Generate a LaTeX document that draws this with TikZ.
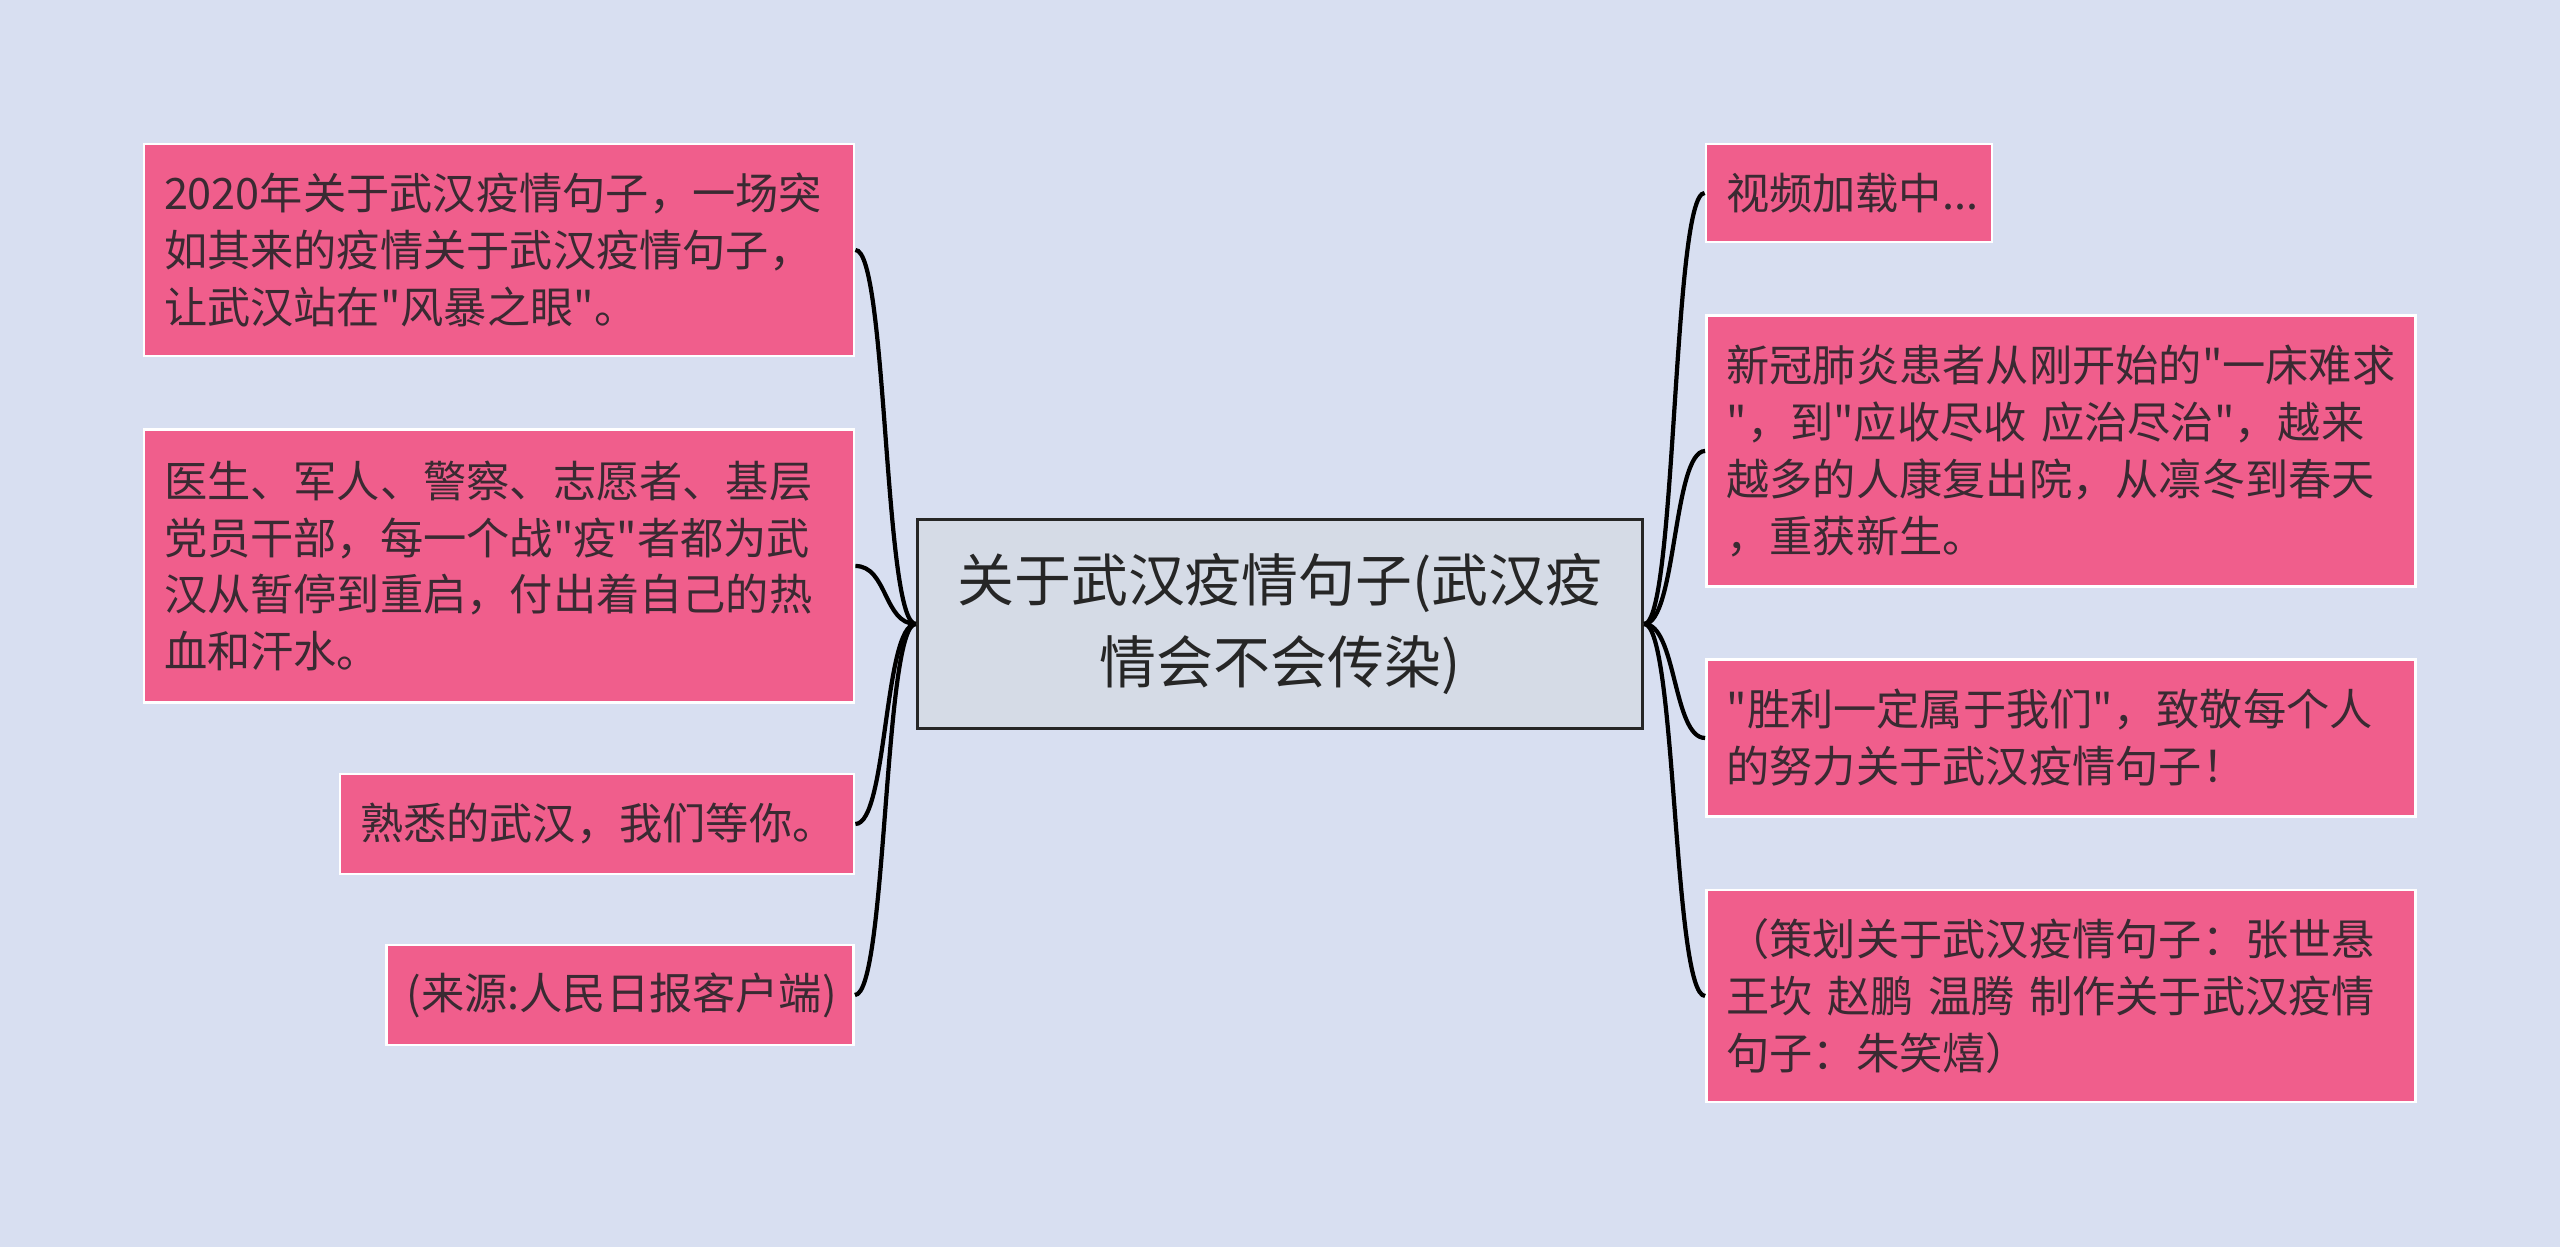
\documentclass[tikz,border=0pt]{standalone}
\usepackage{fontspec}
\setmainfont{Noto Sans CJK SC}[Ligatures=TeXOff]
\usepackage{xcolor}
\definecolor{bgc}{RGB}{216,223,241}
\definecolor{pinkc}{RGB}{240,94,140}
\definecolor{rootc}{RGB}{213,219,230}
\definecolor{txtc}{RGB}{58,42,50}
\begin{document}
\begin{tikzpicture}[
  leaf/.style={draw=white, line width=0.8pt, fill=pinkc, text=txtc, inner xsep=0.2cm, inner ysep=0pt, align=left, font=\fontsize{12.3pt}{16.2pt}\selectfont},
  root/.style={draw=black!85, line width=1pt, fill=rootc, text=black!85, align=center, font=\fontsize{16.2pt}{23.2pt}\selectfont, minimum width=7.25cm, minimum height=2.09cm},
  link/.style={line width=1.2pt, black}
]
\fill[bgc] (0,0) rectangle (25.6,12.47);
\useasboundingbox (0,0) rectangle (25.6,12.47);
\node[root] (C) at (12.80,6.23) {关于武汉疫情句子(武汉疫\\情会不会传染)};
\node[leaf, text width=6.70cm, minimum height=2.12cm] (L1) at (4.99,9.97) {2020年关于武汉疫情句子，一场突\\如其来的疫情关于武汉疫情句子，\\让武汉站在"风暴之眼"。};
\node[leaf, text width=6.70cm, minimum height=2.73cm] (L2) at (4.99,6.81) {医生、军人、警察、志愿者、基层\\党员干部，每一个战"疫"者都为武\\汉从暂停到重启，付出着自己的热\\血和汗水。};
\node[leaf, text width=4.74cm, minimum height=1.00cm] (L3) at (5.97,4.23) {熟悉的武汉，我们等你。};
\node[leaf, text width=4.27cm, minimum height=1.00cm] (L4) at (6.20,2.52) {(来源:人民日报客户端)};
\node[leaf, text width=2.46cm, minimum height=0.98cm] (R1) at (18.49,10.54) {视频加载中...};
\node[leaf, text width=6.69cm, minimum height=2.71cm] (R2) at (20.61,7.96) {新冠肺炎患者从刚开始的"一床难求\\"，到"应收尽收~应治尽治"，越来\\越多的人康复出院，从凛冬到春天\\，重获新生。};
\node[leaf, text width=6.69cm, minimum height=1.57cm] (R3) at (20.61,5.09) {"胜利一定属于我们"，致敬每个人\\的努力关于武汉疫情句子！};
\node[leaf, text width=6.69cm, minimum height=2.12cm] (R4) at (20.61,2.51) {（策划关于武汉疫情句子：张世悬\\王坎 赵鹏 温腾 制作关于武汉疫情\\句子：朱笑熺）};
\draw[link] (C.west) .. controls +(-0.32,0) and +(0.32,0) .. (L1.east);
\draw[link] (C.west) .. controls +(-0.32,0) and +(0.32,0) .. (L2.east);
\draw[link] (C.west) .. controls +(-0.32,0) and +(0.32,0) .. (L3.east);
\draw[link] (C.west) .. controls +(-0.32,0) and +(0.32,0) .. (L4.east);
\draw[link] (C.east) .. controls +(0.32,0) and +(-0.32,0) .. (R1.west);
\draw[link] (C.east) .. controls +(0.32,0) and +(-0.32,0) .. (R2.west);
\draw[link] (C.east) .. controls +(0.32,0) and +(-0.32,0) .. (R3.west);
\draw[link] (C.east) .. controls +(0.32,0) and +(-0.32,0) .. (R4.west);
\end{tikzpicture}
\end{document}
